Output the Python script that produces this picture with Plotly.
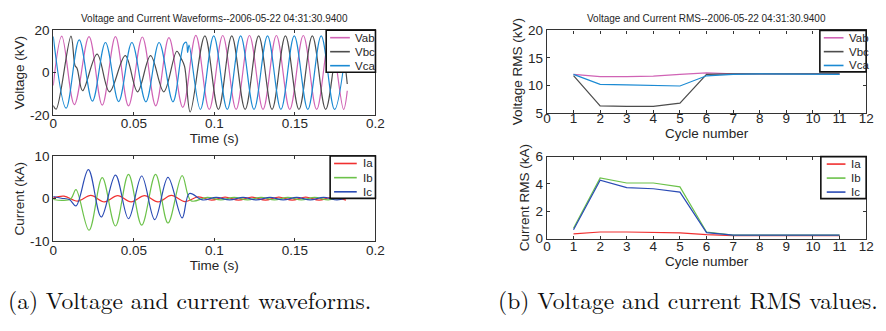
import plotly.graph_objects as go

W, H = 886, 331

# ---------------- waveform samples (extrema of each cycle) ----------------
vab_t = [0.0, 0.0053, 0.0131, 0.0222, 0.0304, 0.0386, 0.0467, 0.0553, 0.0636, 0.0718,
         0.0804, 0.0885, 0.0968, 0.1052, 0.1135, 0.1218, 0.1302, 0.1385, 0.1468,
         0.1552, 0.1635, 0.1718, 0.1802, 0.1825]
vab_kv = [-6.0, 17.2, -15.0, 17.0, -15.3, 17.0, -15.6, 16.8, -15.6, 16.5,
          -16.3, 17.6, -17.3, 17.5, -17.3, 17.5, -17.3, 17.5, -17.3,
          17.5, -17.3, 17.5, -17.3, -8.5]

vbc_t = [0.0, 0.0018, 0.0110, 0.0135, 0.0148, 0.0182, 0.0272, 0.0349, 0.0447, 0.0523,
         0.0604, 0.0686, 0.0767, 0.0795, 0.0815, 0.0850, 0.0941, 0.1025, 0.1108,
         0.1191, 0.1275, 0.1358, 0.1441, 0.1525, 0.1608, 0.1691, 0.1775, 0.1825]
vbc_kv = [-15.5, -17.2, 17.2, 3.4, 2.0, -8.5, 8.7, -9.0, 8.0, -9.0,
          8.0, -9.0, 10.1, 6.5, 3.0, -18.5, 17.3, -17.3, 17.3,
          -17.3, 17.3, -17.3, 17.3, -17.3, 17.3, -17.3, 17.3, -5.3]

vca_t = [0.0, 0.0080, 0.0161, 0.0243, 0.0324, 0.0406, 0.0488, 0.0575, 0.0657, 0.0743,
         0.0810, 0.0826, 0.0834, 0.0843, 0.0913, 0.0996, 0.1080, 0.1163, 0.1246,
         0.1330, 0.1413, 0.1496, 0.1580, 0.1663, 0.1746, 0.1825]
vca_kv = [17.0, -16.7, 15.4, -13.4, 14.2, -13.6, 14.2, -13.7, 14.2, -13.7,
          13.5, 14.3, 9.5, 13.0, -17.3, 17.3, -17.3, 17.3, -17.3,
          17.3, -17.3, 17.3, -17.3, 17.3, -17.3, 17.0]

ia_t = [0.0, 0.0067, 0.0150, 0.0233, 0.0317, 0.0400, 0.0483, 0.0567, 0.0650, 0.0733,
        0.0817, 0.0900, 0.0983, 0.1067, 0.1150, 0.1233, 0.1317, 0.1400, 0.1483,
        0.1567, 0.1650, 0.1733, 0.1817]
ia_ka = [0.2, 0.6, -0.6, 0.75, -0.75, 0.7, -0.75, 0.7, -0.75, 0.75,
         -0.7, 0.4, -0.35, 0.35, -0.35, 0.35, -0.35, 0.35, -0.35,
         0.35, -0.35, 0.35, -0.35]

ib_t = [0.0, 0.0060, 0.0110, 0.0141, 0.0222, 0.0304, 0.0386, 0.0467, 0.0549, 0.0635,
        0.0712, 0.0800, 0.0855, 0.0956, 0.1040, 0.1123, 0.1206, 0.1290, 0.1373,
        0.1456, 0.1540, 0.1623, 0.1706, 0.1790, 0.1815]
ib_ka = [-0.2, -0.4, 0.0, 2.1, -7.4, 4.9, -6.4, 5.7, -6.2, 5.7,
         -5.7, 5.4, -0.5, 0.3, -0.3, 0.3, -0.3, 0.3, -0.3,
         0.3, -0.3, 0.3, -0.3, 0.3, 0.1]

ic_t = [0.0, 0.0050, 0.0100, 0.0141, 0.0218, 0.0298, 0.0386, 0.0467, 0.0549, 0.0630,
        0.0712, 0.0800, 0.0845, 0.0928, 0.1011, 0.1095, 0.1178, 0.1261, 0.1345,
        0.1428, 0.1511, 0.1595, 0.1678, 0.1761, 0.1815]
ic_ka = [0.5, 0.1, -0.2, -1.7, 6.8, -4.3, 5.5, -4.7, 5.3, -4.9,
         5.0, -4.5, 1.2, -0.3, 0.3, -0.3, 0.3, -0.3, 0.3,
         -0.3, 0.3, -0.3, 0.3, -0.3, 0.1]

# ---------------- per-cycle RMS values ----------------
cycles = [1, 2, 3, 4, 5, 6, 7, 8, 9, 10, 11]
vab_rms = [12.0, 11.6, 11.6, 11.7, 12.0, 12.3, 12.1, 12.1, 12.1, 12.1, 12.1]
vbc_rms = [11.8, 6.3, 6.2, 6.2, 6.8, 12.0, 12.1, 12.1, 12.1, 12.1, 12.1]
vca_rms = [12.0, 10.2, 10.1, 10.05, 9.9, 11.75, 12.0, 12.1, 12.1, 12.1, 12.0]
ia_rms = [0.35, 0.49, 0.49, 0.47, 0.42, 0.30, 0.23, 0.23, 0.23, 0.23, 0.23]
ib_rms = [0.77, 4.44, 4.07, 4.07, 3.79, 0.49, 0.26, 0.26, 0.26, 0.26, 0.26]
ic_rms = [0.65, 4.28, 3.74, 3.65, 3.40, 0.44, 0.26, 0.26, 0.26, 0.26, 0.26]

# ---------------- tick labels ----------------
time_ticks = [0, 0.05, 0.1, 0.15, 0.2]
time_labels = ["0", "0.05", "0.1", "0.15", "0.2"]
volt_ticks = [-20, 0, 20]
volt_labels = ["-20", "0", "20"]
curr_ticks = [-10, 0, 10]
curr_labels = ["-10", "0", "10"]
cycle_ticks = list(range(0, 13))
cycle_labels = [str(c) for c in cycle_ticks]
vrms_ticks = [5, 10, 15, 20]
irms_ticks = [0, 2, 4, 6]

voltage_names = ["Vab", "Vbc", "Vca"]
current_names = ["Ia", "Ib", "Ic"]
voltage_colors = ["#D063B5", "#4D4D4D", "#1B8AD3"]
current_colors = ["#F03030", "#6CC24A", "#2A4BB5"]

FONT = "Liberation Sans, Arial, sans-serif"
INK = "#262626"


def px_x(p):
    return p / W


def px_y(p):
    return 1 - p / H


# axes boxes in pixels: (left, right, top, bottom)
boxes = {
    "1": (50, 377, 24.3, 113.3),
    "2": (50, 377, 156.0, 245.5),
    "3": (551, 875, 24.5, 111.0),
    "4": (551, 875, 156.7, 242.7),
}

fig = go.Figure()

wave_v = [(vab_t, vab_kv), (vbc_t, vbc_kv), (vca_t, vca_kv)]
wave_i = [(ia_t, ia_ka), (ib_t, ib_ka), (ic_t, ic_ka)]
rms_v = [vab_rms, vbc_rms, vca_rms]
rms_i = [ia_rms, ib_rms, ic_rms]

for (t, v), name, col in zip(wave_v, voltage_names, voltage_colors):
    fig.add_trace(go.Scatter(x=t, y=v, name=name, mode="lines", xaxis="x", yaxis="y",
                             line=dict(color=col, width=1.2, shape="spline", smoothing=1.0),
                             showlegend=False))
for (t, v), name, col in zip(wave_i, current_names, current_colors):
    fig.add_trace(go.Scatter(x=t, y=v, name=name, mode="lines", xaxis="x2", yaxis="y2",
                             line=dict(color=col, width=1.2, shape="spline", smoothing=1.0),
                             showlegend=False))
for v, name, col in zip(rms_v, voltage_names, voltage_colors):
    fig.add_trace(go.Scatter(x=cycles, y=v, name=name, mode="lines", xaxis="x3", yaxis="y3",
                             line=dict(color=col, width=1.2), showlegend=False))
for v, name, col in zip(rms_i, current_names, current_colors):
    fig.add_trace(go.Scatter(x=cycles, y=v, name=name, mode="lines", xaxis="x4", yaxis="y4",
                             line=dict(color=col, width=1.2), showlegend=False))


def axis_style(**kw):
    d = dict(showline=True, linecolor="#333333", linewidth=1.3, mirror="ticks",
             ticks="inside", ticklen=3, tickcolor="#333333", tickwidth=1,
             showgrid=False, zeroline=False, fixedrange=True,
             tickfont=dict(family=FONT, size=13.5, color=INK),
             tickmode="array")
    d.update(kw)
    return d


def title(text, standoff):
    return dict(text=text, font=dict(family=FONT, size=13.5, color=INK), standoff=standoff)


layout_axes = {}
specs = {
    "1": dict(xr=[0, 0.2], xt=time_ticks, xl=time_labels, xtitle="Time (s)",
              yr=[-20, 20], yt=volt_ticks, yl=volt_labels, ytitle="Voltage (kV)", xs=-5),
    "2": dict(xr=[0, 0.2], xt=time_ticks, xl=time_labels, xtitle="Time (s)",
              yr=[-10, 10], yt=curr_ticks, yl=curr_labels, ytitle="Current (kA)", xs=-4),
    "3": dict(xr=[0, 12], xt=cycle_ticks, xl=cycle_labels, xtitle="Cycle number",
              yr=[5, 20], yt=vrms_ticks, yl=[str(v) for v in vrms_ticks],
              ytitle="Voltage RMS (kV)", xs=-7),
    "4": dict(xr=[0, 12], xt=cycle_ticks, xl=cycle_labels, xtitle="Cycle number",
              yr=[0, 6], yt=irms_ticks, yl=[str(v) for v in irms_ticks],
              ytitle="Current RMS (kA)", xs=-5),
}
for k, s in specs.items():
    l, r, t, b = boxes[k]
    xn = "xaxis" if k == "1" else "xaxis" + k
    yn = "yaxis" if k == "1" else "yaxis" + k
    ya = "y" if k == "1" else "y" + k
    xa = "x" if k == "1" else "x" + k
    layout_axes[xn] = axis_style(domain=[px_x(l), px_x(r)], anchor=ya, range=s["xr"],
                                 tickvals=s["xt"], ticktext=s["xl"],
                                 ticklabelstandoff=s["xs"],
                                 title=title(s["xtitle"], 0))
    layout_axes[yn] = axis_style(domain=[px_y(b), px_y(t)], anchor=xa, range=s["yr"],
                                 tickvals=s["yt"], ticktext=s["yl"],
                                 title=title(s["ytitle"], 2))

fig.update_layout(**layout_axes)

shapes = []
annotations = []

# hand-sized legends in the upper-right corner of each axes box
legend_specs = [
    ("1", voltage_names, voltage_colors, 50, 44, 4, 24, 27),
    ("2", current_names, current_colors, 46, 44.5, 4, 27, 31),
    ("3", voltage_names, voltage_colors, 47, 43.5, 4, 24, 28),
    ("4", current_names, current_colors, 46, 44, 6, 25, 29),
]
for k, names, cols, bw, bh, lx0, lx1, tx in legend_specs:
    l, r, t, b = boxes[k]
    x0 = r - bw
    shapes.append(dict(type="rect", xref="paper", yref="paper",
                       x0=px_x(x0), x1=px_x(r), y0=px_y(t + bh), y1=px_y(t),
                       fillcolor="white", line=dict(color="#111111", width=1.6), layer="above"))
    for i, (nm, c) in enumerate(zip(names, cols)):
        ry = t + bh * (i + 0.5) / 3 + 0.5
        shapes.append(dict(type="line", xref="paper", yref="paper",
                           x0=px_x(x0 + lx0), x1=px_x(x0 + lx1), y0=px_y(ry), y1=px_y(ry),
                           line=dict(color=c, width=1.6), layer="above"))
        annotations.append(dict(text=nm, xref="paper", yref="paper", x=px_x(x0 + tx), y=px_y(ry),
                                xanchor="left", yanchor="middle", showarrow=False,
                                font=dict(family=FONT, size=11.5, color=INK)))

# panel titles
annotations.append(dict(text="Voltage and Current Waveforms--2006-05-22 04:31:30.9400",
                        xref="paper", yref="paper", x=px_x(213.5), y=px_y(11.7),
                        xanchor="center", yanchor="middle", showarrow=False,
                        font=dict(family=FONT, size=10, color=INK)))
annotations.append(dict(text="Voltage and Current RMS--2006-05-22 04:31:30.9400",
                        xref="paper", yref="paper", x=px_x(713), y=px_y(11.7),
                        xanchor="center", yanchor="middle", showarrow=False,
                        font=dict(family=FONT, size=10, color=INK)))

# captions
CAP = "Latin Modern Roman, CMU Serif, Liberation Serif, DejaVu Serif, serif"
annotations.append(dict(text="(a) Voltage and current waveforms.", xref="paper", yref="paper",
                        x=px_x(2), y=px_y(306), xanchor="left", yanchor="middle",
                        showarrow=False, font=dict(family=CAP, size=23.5, color="#111111")))
annotations.append(dict(text="(b) Voltage and current RMS values.", xref="paper", yref="paper",
                        x=px_x(499), y=px_y(306), xanchor="left", yanchor="middle",
                        showarrow=False, font=dict(family=CAP, size=23.5, color="#111111")))

fig.update_layout(width=W, height=H, margin=dict(l=0, r=0, t=0, b=0),
                  paper_bgcolor="white", plot_bgcolor="white",
                  shapes=shapes, annotations=annotations, showlegend=False)

fig.write_html("out.html")
